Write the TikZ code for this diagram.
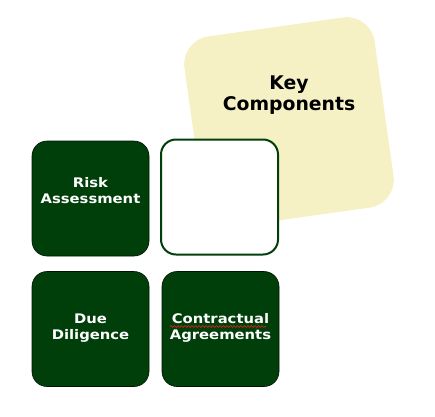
\documentclass[tikz,border=0pt]{standalone}
\usepackage{fontspec}
\setmainfont{DejaVu Sans}
\newfontfamily\boxfont[FakeStretch=1.12]{DejaVu Sans Bold}
\newfontfamily\keyfont{DejaVu Sans Bold}
\usetikzlibrary{decorations.pathmorphing}
\definecolor{dgreen}{HTML}{003F0A}
\definecolor{pyellow}{HTML}{F5F1C5}
\definecolor{wred}{HTML}{D02020}
\begin{document}
\begin{tikzpicture}[x=1pt,y=-1pt,
  tile/.style={minimum width=117pt,minimum height=115pt,rounded corners=15pt,inner sep=0pt},
  greentile/.style={tile,fill=dgreen,draw=black!70!dgreen,line width=0.6pt},
  tiletext/.style={text=white,font=\boxfont\fontsize{13.2}{15.5}\selectfont,align=center}]
\useasboundingbox (0,0) rectangle (435,416);
\node[minimum size=192pt,rotate=8,rounded corners=28pt,fill=pyellow,inner sep=0pt] (key) at (289,122) {};
\node[font=\keyfont\fontsize{18.8}{20.5}\selectfont,align=center,text=black] (keytext) at (289,95) {Key\\Components};
\node[greentile] (risk) at (90.5,198.5) {};
\node[tiletext] (risktext) at (90.5,190.5) {Risk\\Assessment};
\node[tile,fill=white,draw=dgreen,line width=2pt] (empty) at (219.5,197) {};
\node[greentile] (due) at (90.5,329) {};
\node[tiletext] (duetext) at (90.5,328) {Due\\Diligence};
\node[greentile] (contr) at (220.5,329) {};
\node[tiletext] (contrtext) at (220.5,328) {Contractual\\Agreements};
\coordinate (ua) at (170,326.5);
\coordinate (ub) at (266,326.5);
\draw[wred,line width=0.7pt,decorate,decoration={snake,amplitude=0.9pt,segment length=3.5pt}] (ua) -- (ub);
\end{tikzpicture}
\end{document}
